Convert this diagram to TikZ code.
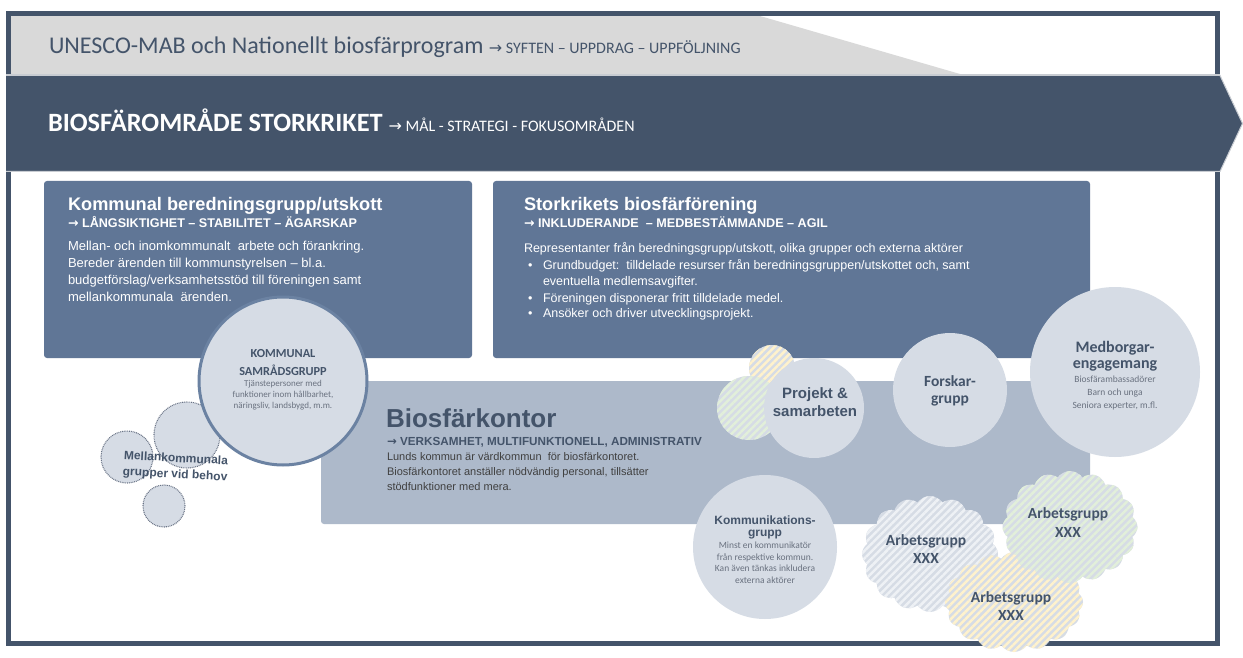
\documentclass[tikz,border=0pt]{standalone}
\usepackage{fontspec}
\setmainfont{Liberation Sans}
\newfontfamily\calf{Carlito}
\newfontfamily\arrowfont{DejaVu Sans}
\usetikzlibrary{shapes.symbols,patterns.meta}
\definecolor{navy}{HTML}{44546A}
\definecolor{boxblue}{HTML}{607696}
\definecolor{lightbox}{HTML}{ADB9CA}
\definecolor{circ}{HTML}{D6DCE5}
\definecolor{greyband}{HTML}{D9D9D9}
\definecolor{sepline}{HTML}{C8CCD2}
\definecolor{samb}{HTML}{6B82A2}
\definecolor{dotc}{HTML}{6A7486}
\definecolor{smalltxt}{HTML}{6A7280}
\definecolor{bodydark}{HTML}{404040}
\definecolor{stripew}{HTML}{EEF1F5}
\definecolor{stripeg}{HTML}{E2EFDA}
\definecolor{stripey}{HTML}{FFF2CC}
\newcommand\fs[2]{\fontsize{#1}{#2}\selectfont}
\newcommand\rarr{{\arrowfont\mdseries →}}
\newcommand\rarrb{{\arrowfont\bfseries →}}
\begin{document}
\begin{tikzpicture}[x=1pt,y=-1pt,
  every node/.style={inner sep=0pt, outer sep=0pt},
  txt/.style={anchor=base west},
  ctxt/.style={anchor=base},
  panel/.style={rounded corners=3pt, anchor=north west},
  bubble/.style={circle, fill=circ},
  dotbubble/.style={bubble, draw=dotc, line width=1.1pt, dash pattern=on 0.9pt off 0.9pt},
  stripes/.style 2 args={preaction={fill=#1}, pattern={Lines[angle=45,distance=5.2pt,line width=2.5pt]}, pattern color=#2},
  cloudy/.style={cloud, cloud puffs=16, cloud puff arc=110, cloud ignores aspect},
  wtitle/.style={txt, font=\bfseries\fs{18.2}{20}, text=white},
  warrow/.style={txt, font=\bfseries\fs{12.6}{15}, text=white},
  wbody/.style={txt, font=\fs{13}{15}, text=white},
  wbody2/.style={txt, font=\fs{12.5}{15}, text=white},
  calbold/.style={ctxt, font=\calf\bfseries\fs{15.5}{18}, text=navy},
  calsmall/.style={ctxt, font=\calf\fs{9.5}{11}, text=smalltxt},
]
\useasboundingbox (0,0) rectangle (1243,658);
\fill[white] (0,0) rectangle (1243,658);

% top grey band
\fill[greyband] (11,16) -- (760,16) -- (960,74) -- (11,74) -- cycle;
% outer frame
\draw[navy, line width=5pt] (8.5,13.5) rectangle (1217.5,643.5);
\draw[sepline, line width=1pt] (6,74.5) -- (1220,74.5);
% dark arrow band
\fill[navy] (6,75.5) -- (1220,75.5) -- (1242.5,123.5) -- (1220,171.5) -- (6,171.5) -- cycle;
\draw[sepline, line width=1pt] (6,75.5) -- (1220,75.5) -- (1242.5,123.5) -- (1220,171.5) -- (6,171.5);

\node[txt, font=\calf\fs{24}{26}, text=navy] (unesco) at (49,54)
  {UNESCO-MAB och Nationellt biosfärprogram {\fs{16}{18}\rarr\ SYFTEN – UPPDRAG – UPPFÖLJNING}};
\node[txt, font=\calf\bfseries\fs{26.4}{28}, text=white] (storkriket) at (48,132)
  {BIOSFÄROMRÅDE STORKRIKET {\mdseries\fs{16}{18}\rarr\ MÅL - STRATEGI - FOKUSOMRÅDEN}};

% panels
\node[panel, fill=boxblue, minimum width=428, minimum height=177] (kb) at (44,181) {};
\node[panel, fill=boxblue, minimum width=597, minimum height=177] (sf) at (493,181) {};
\node[panel, fill=lightbox, minimum width=769, minimum height=143] (bk) at (321,381) {};

% left panel text
\node[wtitle] (kbt) at (68,211) {Kommunal beredningsgrupp/utskott};
\node[warrow] (kba) at (68,227) {\rarrb\ LÅNGSIKTIGHET – STABILITET – ÄGARSKAP};
\node[wbody] (kb1) at (68,250) {Mellan- och inomkommunalt\ \ arbete och förankring.};
\node[wbody] (kb2) at (68,267) {Bereder ärenden till kommunstyrelsen – bl.a.};
\node[wbody] (kb3) at (68,284) {budgetförslag/verksamhetsstöd till föreningen samt};
\node[wbody] (kb4) at (68,301) {mellankommunala\ \ ärenden.};

% right panel text
\node[wtitle] (sft) at (524,211) {Storkrikets biosfärförening};
\node[warrow] (sfa) at (524,227) {\rarrb\ INKLUDERANDE\ \ – MEDBESTÄMMANDE – AGIL};
\node[wbody2] (sf1) at (524,252) {Representanter från beredningsgrupp/utskott, olika grupper och externa aktörer};
\node[wbody2] (sfb1) at (528,269) {•};
\node[wbody2] (sf2) at (543,269) {Grundbudget:\ \ tilldelade resurser från beredningsgruppen/utskottet och, samt};
\node[wbody2] (sf3) at (543,285.5) {eventuella medlemsavgifter.};
\node[wbody2] (sfb2) at (528,302) {•};
\node[wbody2] (sf4) at (543,302) {Föreningen disponerar fritt tilldelade medel.};
\node[wbody2] (sfb3) at (528,317.5) {•};
\node[wbody2] (sf5) at (543,317.5) {Ansöker och driver utvecklingsprojekt.};

% Biosfärkontor text
\node[txt, font=\bfseries\fs{26}{28}, text=navy] (bkt) at (386,427) {Biosfärkontor};
\node[txt, font=\bfseries\fs{11.7}{14}, text=navy] (bka) at (387,445) {\rarrb\ VERKSAMHET, MULTIFUNKTIONELL, ADMINISTRATIV};
\node[txt, font=\fs{11}{13}, text=bodydark] (bk1) at (387,460) {Lunds kommun är värdkommun\ \ för biosfärkontoret.};
\node[txt, font=\fs{11}{13}, text=bodydark] (bk2) at (387,475) {Biosfärkontoret anställer nödvändig personal, tillsätter};
\node[txt, font=\fs{11}{13}, text=bodydark] (bk3) at (387,490) {stödfunktioner med mera.};

% Mellankommunala dotted bubbles
\node[dotbubble, minimum size=52] (mk1) at (127,457) {};
\node[dotbubble, minimum size=66] (mk2) at (187,435) {};
\node[dotbubble, minimum size=42] (mk3) at (164,506) {};
\node[rotate=-3, align=center, font=\bfseries\fs{12}{16}, text=navy] (mkt) at (175.5,467) {Mellankommunala\\grupper vid behov};

% Kommunal samrådsgrupp
\node[bubble, draw=samb, line width=3pt, minimum size=168] (sam) at (283,381) {};
\node[ctxt, font=\calf\bfseries\fs{12.3}{14}, text=navy] (sam1) at (283,357) {KOMMUNAL};
\node[ctxt, font=\calf\bfseries\fs{12.3}{14}, text=navy] (sam2) at (283,375) {SAMRÅDSGRUPP};
\node[ctxt, font=\calf\fs{9}{10}, text=smalltxt] (sam3) at (283,386.5) {Tjänstepersoner med};
\node[ctxt, font=\calf\fs{9}{10}, text=smalltxt] (sam4) at (283,397.5) {funktioner inom hållbarhet,};
\node[ctxt, font=\calf\fs{9}{10}, text=smalltxt] (sam5) at (283,408.5) {näringsliv, landsbygd, m.m.};

% Projekt & samarbeten
\node[circle, stripes={circ}{stripey}, minimum size=46] (py) at (772,368) {};
\node[circle, stripes={circ}{stripeg}, minimum size=64] (pg) at (749,408) {};
\node[bubble, minimum size=100] (proj) at (814,408) {};
\node[ctxt, font=\bfseries\fs{15}{17}, text=navy] (proj1) at (815,398) {Projekt \&};
\node[ctxt, font=\bfseries\fs{15}{17}, text=navy] (proj2) at (815,416.5) {samarbeten};

% Forskargrupp
\node[bubble, minimum size=114] (fg) at (950,390) {};
\node[calbold] (fg1) at (950,386) {Forskar-};
\node[calbold] (fg2) at (950,403) {grupp};

% Medborgarengagemang
\node[bubble, minimum size=170] (mb) at (1115,372) {};
\node[calbold, font=\calf\bfseries\fs{16}{18}] (mb1) at (1115,352) {Medborgar-};
\node[calbold, font=\calf\bfseries\fs{16}{18}] (mb2) at (1115,368) {engagemang};
\node[calsmall] (mb3) at (1115,382) {Biosfärambassadörer};
\node[calsmall] (mb4) at (1115,395) {Barn och unga};
\node[calsmall] (mb5) at (1115,408) {Seniora experter, m.fl.};

% Kommunikationsgrupp
\node[bubble, minimum size=144] (kg) at (765,547) {};
\node[ctxt, font=\bfseries\fs{12}{14}, text=navy] (kg1) at (765,524.5) {Kommunikations-};
\node[ctxt, font=\bfseries\fs{12}{14}, text=navy] (kg2) at (765,536.5) {grupp};
\node[calsmall] (kg3) at (765,548.5) {Minst en kommunikatör};
\node[calsmall] (kg4) at (765,560) {från respektive kommun.};
\node[calsmall] (kg5) at (765,571.5) {Kan även tänkas inkludera};
\node[calsmall] (kg6) at (765,583) {externa aktörer};

% Arbetsgrupp clouds
\node[cloudy, stripes={circ}{stripew}, minimum width=136, minimum height=116] (ag1) at (930,554) {};
\node[calbold] (ag1a) at (926,545) {Arbetsgrupp};
\node[calbold] (ag1b) at (926,563) {XXX};
\node[cloudy, stripes={circ}{stripey}, minimum width=138, minimum height=100] (ag3) at (1014,602) {};
\node[calbold] (ag3a) at (1011,602) {Arbetsgrupp};
\node[calbold] (ag3b) at (1011,620) {XXX};
\node[cloudy, stripes={circ}{stripeg}, minimum width=135, minimum height=112] (ag2) at (1070,527) {};
\node[calbold] (ag2a) at (1068,518) {Arbetsgrupp};
\node[calbold] (ag2b) at (1068,537) {XXX};
\end{tikzpicture}
\end{document}
